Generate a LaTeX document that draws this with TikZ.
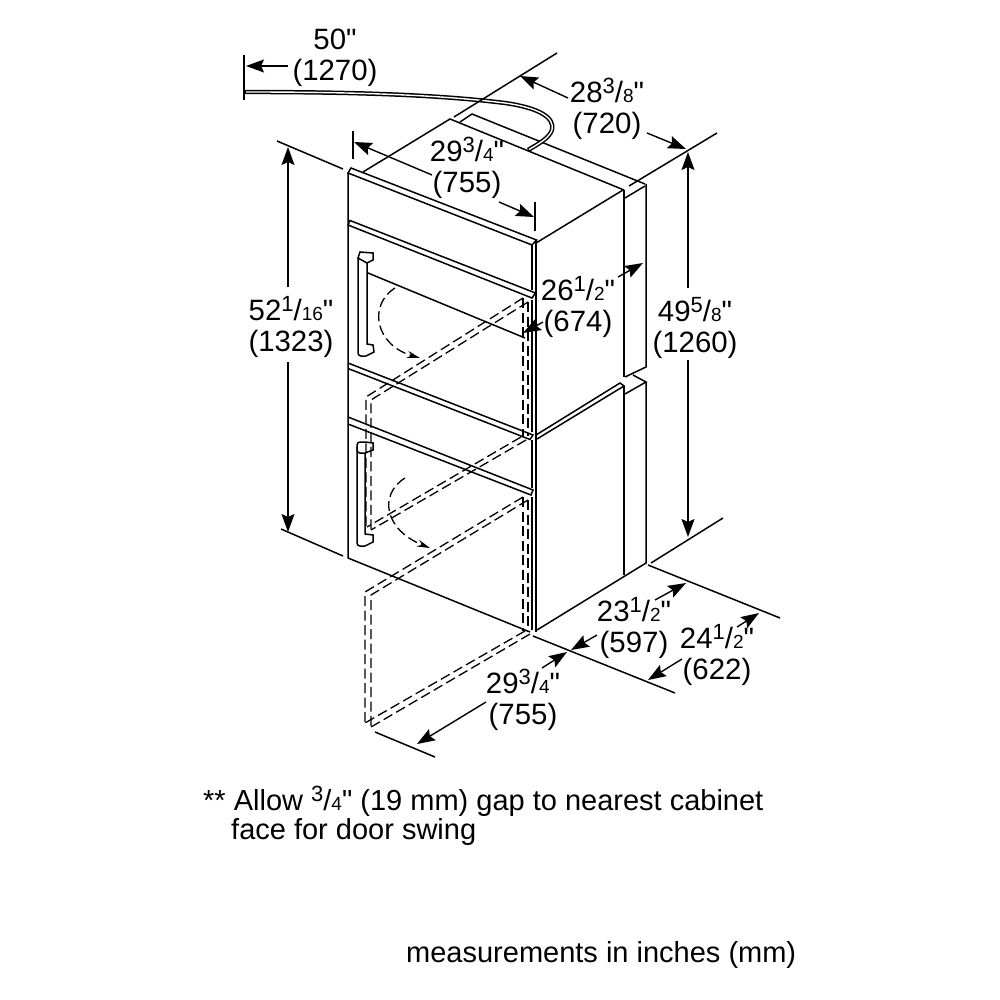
\documentclass[tikz,border=0pt]{standalone}
\usepackage{fontspec}
\setmainfont[Mapping={}]{Liberation Sans}
\usetikzlibrary{arrows.meta}
\newcommand{\frc}[2]{\raisebox{9pt}{\fontsize{22}{22}\selectfont #1}/{\fontsize{19}{19}\selectfont #2}}
\newcommand{\qq}{\symbol{34}}
\tikzset{
  ln/.style={line width=1.5pt,line join=miter,black},
  thn/.style={line width=1.5pt,black},
  dsh/.style={line width=1.3pt,dash pattern=on 10pt off 4.5pt,black},
  dimarrow/.style={line width=1.4pt,-{Stealth[length=18pt,width=13pt,inset=3pt]},black},
  lab/.style={font=\fontsize{29.4}{30.5}\selectfont,align=center,inner sep=0pt,text=black},
  note/.style={font=\fontsize{29}{31}\selectfont,align=left,inner sep=0pt,anchor=base west,text=black}
}
\begin{document}
\begin{tikzpicture}[x=1pt,y=-1pt]
\useasboundingbox[fill=white] (0,0) rectangle (1000,1000);
% front outline
\draw[ln] (348,173) -- (348,558) -- (530,632);
\draw[ln] (348,173) -- (351,168) -- (536.5,240) -- (532,245) -- cycle;
\draw[ln] (532,245) -- (532,290);
\draw[ln] (536,240) -- (536,632);
\draw[ln] (532,300) -- (532,432);
\draw[ln] (532,440) -- (532,488);
\draw[ln] (532,497) -- (532,630);
% door strips
\draw[ln] (348,225) -- (350,220.5) -- (535.5,293) -- (532,298) -- cycle;
\draw[ln] (348,363) -- (533,435) -- (530,439.5) -- (348,368.5);
\draw[ln] (348,417) -- (533,490) -- (531,495) -- (348,424);
% top and side
\draw[ln] (363,172) -- (450,119) -- (624,190);
\draw[ln] (536,243) -- (623,190);
\draw[ln] (460,122) -- (472,114) -- (645,184);
\draw[ln] (625,198) -- (645,186);
\draw[ln] (624,190) -- (624,377);
\draw[ln] (646,184) -- (646,367) -- (625,377);
\draw[ln] (633,375) -- (646,382) -- (625,394);
\draw[ln] (536,435) -- (620,383) -- (624,386) -- (537,439);
\draw[ln] (624,386) -- (624,575);
\draw[ln] (646,382) -- (646,563) -- (537,630);
% handles
\draw[ln] (358,258) -- (360,252) -- (373,253) -- (373,260) -- (367,263) -- cycle;
\draw[ln,rounded corners=3pt] (358,258) -- (358,356) -- (366,356);
\draw[ln] (366,356) -- (374,352) -- (373,345) -- (367,344) -- (367,263);
\draw[ln,rounded corners=3pt] (365,453) -- (357,453) -- (357,442) -- (365,442);
\draw[ln] (365,442) -- (373,443) -- (373,450) -- (365,453);
\draw[ln,rounded corners=3pt] (357,447) -- (357,546) -- (365,546);
\draw[ln] (365,546) -- (373,542) -- (373,535) -- (365,534) -- (365,453);
% door inner line
\draw[ln] (368,273) -- (525,338);
% dashed door swing
\draw[dsh] (523,298) -- (366,397) -- (366,530);
\draw[dsh] (528,302) -- (371,400) -- (371,532);
\draw[dsh] (521,437) -- (367,527);
\draw[dsh] (526,440) -- (371,530);
\draw[dsh] (523,497) -- (365,592) -- (365,725);
\draw[dsh] (528,500) -- (371,595) -- (371,728);
\draw[dsh] (525,631) -- (365,723);
\draw[dsh] (530,634) -- (371,727);
\draw[dsh] (523,298) -- (523,436);
\draw[dsh] (528,302) -- (528,436);
\draw[dsh] (523,497) -- (523,631);
\draw[dsh] (528,500) -- (528,631);
% swing arcs
\draw[dsh,-{Stealth[length=13pt,width=7pt]}] (395,288) .. controls (368,305) and (375,345) .. (420,358);
\draw[dsh,-{Stealth[length=13pt,width=7pt]}] (405,478) .. controls (378,495) and (385,530) .. (430,548);
% cable
\draw[line width=4.4pt,black] (245,92) .. controls (360,92) and (440,95) .. (505,103) .. controls (540,108) and (555,118) .. (552,130) .. controls (549,138) and (540,143) .. (528,150);
\draw[line width=1.4pt,white] (246,92) .. controls (360,92) and (440,95) .. (505,103) .. controls (540,108) and (555,118) .. (552,130) .. controls (549,138) and (540,143) .. (529,149.5);
% extension lines
\draw[thn] (244,55) -- (244,100);
\draw[thn] (277,141) -- (343,169);
\draw[thn] (353,131) -- (353,159);
\draw[thn] (535,202) -- (535,231);
\draw[thn] (454,117) -- (557,53);
\draw[thn] (629,186) -- (717,133);
\draw[thn] (651,563) -- (723,518);
\draw[thn] (648,565) -- (780,618);
\draw[thn] (533,636) -- (675,693);
\draw[thn] (375,732) -- (435,757);
\draw[thn] (281,529) -- (343,556);
% labels
\node[lab] (l50) at (335,58) {50\qq\\(1270)};
\node[lab] (l29a) at (467,168) {29\frc{3}{4}\qq\\(755)};
\node[lab] (l28) at (607,109) {28\frc{3}{8}\qq\\(720)};
\node[lab] (l52) at (291,327) {52\frc{1}{16}\qq\\(1323)};
\node[lab] (l49) at (695,328) {49\frc{5}{8}\qq\\(1260)};
\node[lab] (l26) at (578,307) {26\frc{1}{2}\qq\\(674)};
\node[lab] (l23) at (634,628) {23\frc{1}{2}\qq\\(597)};
\node[lab] (l24) at (717,655) {24\frc{1}{2}\qq\\(622)};
\node[lab] (l29b) at (523,700) {29\frc{3}{4}\qq\\(755)};
\node[note] (n1) at (203,810) {** Allow \frc{3}{4}\qq{} (19 mm) gap to nearest cabinet};
\node[note] (n2) at (231,839) {face for door swing};
\node[note] (n3) at (406,962) {measurements in inches (mm)};
% dimension arrows
\coordinate (a1) at (288,66); \coordinate (a1t) at (246,66);
\draw[dimarrow] (a1) -- (a1t);
\coordinate (a2) at (432,175); \coordinate (a2t) at (354,142);
\draw[dimarrow] (a2) -- (a2t);
\coordinate (a3) at (499,202); \coordinate (a3t) at (534,217);
\draw[dimarrow] (a3) -- (a3t);
\coordinate (a4) at (568,98); \coordinate (a4t) at (520,76);
\draw[dimarrow] (a4) -- (a4t);
\coordinate (a5) at (647,133); \coordinate (a5t) at (686,149);
\draw[dimarrow] (a5) -- (a5t);
\coordinate (a6) at (288,287); \coordinate (a6t) at (288,147);
\draw[dimarrow] (a6) -- (a6t);
\coordinate (a7) at (288,362); \coordinate (a7t) at (288,532);
\draw[dimarrow] (a7) -- (a7t);
\coordinate (a8) at (688,288); \coordinate (a8t) at (688,152);
\draw[dimarrow] (a8) -- (a8t);
\coordinate (a9) at (688,360); \coordinate (a9t) at (688,537);
\draw[dimarrow] (a9) -- (a9t);
\coordinate (a10) at (618,277); \coordinate (a10t) at (643,263);
\draw[dimarrow] (a10) -- (a10t);
\coordinate (a11) at (543,322); \coordinate (a11t) at (523,333);
\draw[dimarrow] (a11) -- (a11t);
\coordinate (a12) at (655,600); \coordinate (a12t) at (686,583);
\draw[dimarrow] (a12) -- (a12t);
\coordinate (a13) at (597,635); \coordinate (a13t) at (571,650);
\draw[dimarrow] (a13) -- (a13t);
\coordinate (a14) at (737,627); \coordinate (a14t) at (759,613);
\draw[dimarrow] (a14) -- (a14t);
\coordinate (a15) at (682,659); \coordinate (a15t) at (648,680);
\draw[dimarrow] (a15) -- (a15t);
\coordinate (a16) at (542,668); \coordinate (a16t) at (567,652);
\draw[dimarrow] (a16) -- (a16t);
\coordinate (a17) at (486,702); \coordinate (a17t) at (417,744);
\draw[dimarrow] (a17) -- (a17t);
\end{tikzpicture}
\end{document}
